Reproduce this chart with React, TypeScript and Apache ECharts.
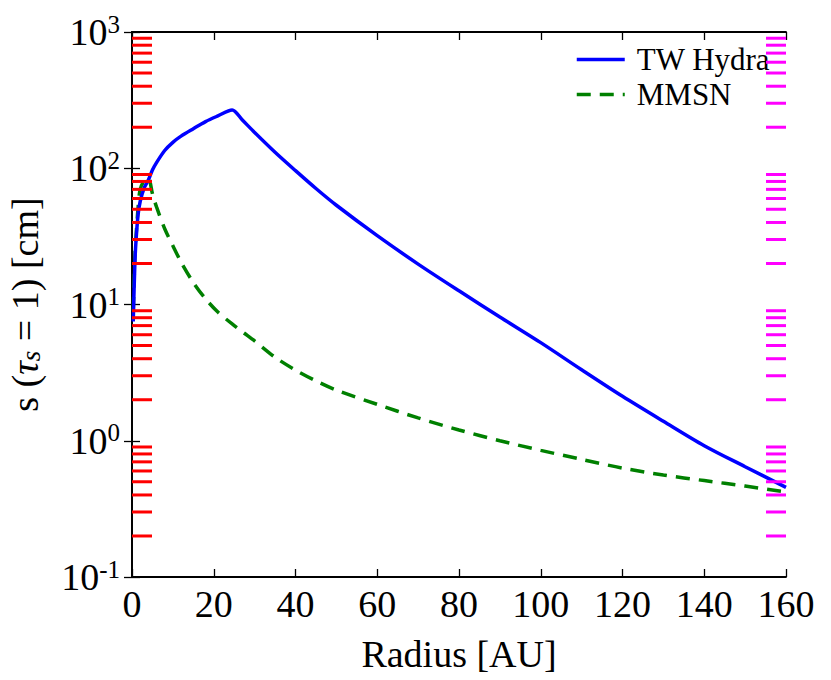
import React, { useEffect, useRef } from "react";
import * as echarts from "echarts";

const radius = [0.3, 0.7, 1, 1.5, 2, 3, 4, 5, 6, 8, 10, 12, 15, 18, 21, 24.5, 27, 30, 35, 40, 45, 50, 60, 70, 80, 90, 100, 110, 120, 130, 140, 150, 160];
const twHydra = [7.5, 20, 30, 46, 57, 72, 82, 97, 110, 135, 155, 172, 195, 220, 242, 268, 226, 183, 131, 96, 71, 53.5, 32, 19.8, 12.6, 8.1, 5.25, 3.32, 2.12, 1.39, 0.92, 0.645, 0.455];
const mmsn = [9, 22, 32, 52, 70, 81, 84, 65, 52, 36, 27, 20.5, 14.5, 11, 8.8, 7.2, 6.3, 5.4, 4.1, 3.3, 2.75, 2.35, 1.85, 1.47, 1.2, 1.0, 0.85, 0.73, 0.63, 0.56, 0.51, 0.465, 0.42];
const seriesNames = ["TW Hydra", "MMSN"];
const xTicks = { min: 0, max: 160, interval: 20 };
const yRange = { min: 0.1, max: 1000 };
const minorTickValues = [0.2, 0.3, 0.4, 0.5, 0.6, 0.7, 0.8, 0.9, 2, 3, 4, 5, 6, 7, 8, 9, 20, 30, 40, 50, 60, 70, 80, 90, 200, 300, 400, 500, 600, 700, 800, 900];

const FONT = "Liberation Serif";

export default function App() {
  const ref = useRef<HTMLDivElement>(null);
  useEffect(() => {
    if (!ref.current) return;
    const chart = echarts.init(ref.current, null, { renderer: "svg" });
    const yLabel = {
      formatter: (v: number) => `{b|10}{s|${Math.round(Math.log10(v))}}`,
      margin: 12,
      rich: {
        b: { fontSize: 38, fontFamily: FONT, color: "#000" },
        s: { fontSize: 25, fontFamily: FONT, color: "#000", verticalAlign: "top", padding: [0, 0, 16, 0] },
      },
    };
    const tickLine = { lineStyle: { color: "#000", width: 1.3 } };
    chart.setOption({
      animation: false,
      backgroundColor: "#fff",
      grid: { left: 132, top: 32, right: 45, bottom: 103, containLabel: false, outerBoundsMode: "none" },
      legend: {
        data: seriesNames,
        orient: "vertical",
        left: 575,
        top: 44,
        padding: 0,
        itemWidth: 48,
        itemHeight: 14,
        itemGap: 4,
        itemStyle: { opacity: 0, borderWidth: 0 },
        lineStyle: { width: 3.5 },
        textStyle: { fontSize: 31, fontFamily: FONT, color: "#000", padding: [0, 0, 0, 7] },
      },
      xAxis: [
        {
          type: "value",
          min: xTicks.min,
          max: xTicks.max,
          interval: xTicks.interval,
          position: "bottom",
          splitLine: { show: false },
          axisLine: { show: true, lineStyle: { color: "#000", width: 1.8 } },
          axisTick: { show: true, inside: true, length: 8, ...tickLine },
          axisLabel: { fontSize: 38, fontFamily: FONT, color: "#000", margin: 8 },
          name: "Radius [AU]",
          nameLocation: "middle",
          nameGap: 58,
          nameTextStyle: { fontSize: 38, fontFamily: FONT, color: "#000" },
        },
        {
          type: "value",
          min: xTicks.min,
          max: xTicks.max,
          interval: xTicks.interval,
          position: "top",
          splitLine: { show: false },
          axisLine: { show: true, lineStyle: { color: "#000", width: 1.8 } },
          axisTick: { show: true, inside: true, length: 8, ...tickLine },
          axisLabel: { show: false },
        },
      ],
      yAxis: [
        {
          type: "log",
          logBase: 10,
          min: yRange.min,
          max: yRange.max,
          position: "left",
          splitLine: { show: false },
          axisLine: { show: true, lineStyle: { color: "#000", width: 1.8 } },
          axisTick: { show: true, inside: true, length: 8, ...tickLine },
          axisLabel: yLabel,
          name: "s ({i|τ}{sub|s} = 1) [cm]",
          nameLocation: "middle",
          nameRotate: 90,
          nameGap: 88,
          nameTextStyle: {
            fontSize: 38,
            fontFamily: FONT,
            color: "#000",
            rich: {
              i: { fontSize: 38, fontFamily: FONT, fontStyle: "italic", color: "#000" },
              sub: { fontSize: 27, fontFamily: FONT, fontStyle: "italic", color: "#000", verticalAlign: "bottom", padding: [10, 0, 0, 0] },
            },
          },
        },
        {
          type: "log",
          logBase: 10,
          min: yRange.min,
          max: yRange.max,
          position: "right",
          splitLine: { show: false },
          axisLine: { show: true, lineStyle: { color: "#000", width: 1.8 } },
          axisTick: { show: true, inside: true, length: 8, ...tickLine },
          axisLabel: { show: false },
        },
      ],
      series: [
        {
          name: seriesNames[0],
          type: "line",
          data: radius.map((r, i) => [r, twHydra[i]]),
          showSymbol: false,
          symbol: "none",
          smooth: 0.3,
          lineStyle: { color: "#0000ff", width: 3.5 },
          itemStyle: { color: "#0000ff" },
          z: 3,
        },
        {
          name: seriesNames[1],
          type: "line",
          data: radius.map((r, i) => [r, mmsn[i]]),
          showSymbol: false,
          symbol: "none",
          smooth: 0.3,
          lineStyle: { color: "#008000", width: 3.5, type: [14, 9] },
          itemStyle: { color: "#008000" },
          z: 2,
        },
        {
          name: "minorTicksLeft",
          type: "custom",
          silent: true,
          clip: false,
          data: minorTickValues.map((v) => [xTicks.min, v]),
          renderItem: (params: any, api: any) => {
            const p = api.coord([api.value(0), api.value(1)]);
            return {
              type: "rect",
              shape: { x: p[0], y: p[1] - 1.5, width: 20, height: 3 },
              style: { fill: "#ff0000" },
            };
          },
          z: 50,
        },
        {
          name: "minorTicksRight",
          type: "custom",
          silent: true,
          clip: false,
          data: minorTickValues.map((v) => [xTicks.max, v]),
          renderItem: (params: any, api: any) => {
            const p = api.coord([api.value(0), api.value(1)]);
            return {
              type: "rect",
              shape: { x: p[0] - 20, y: p[1] - 1.5, width: 20, height: 3 },
              style: { fill: "#ff00ff" },
            };
          },
          z: 50,
        },
      ],
    });
    return () => chart.dispose();
  }, []);
  return (
    <div
      ref={ref}
      style={{ position: "fixed", left: 0, top: 0, width: 831, height: 680, background: "#fff" }}
    />
  );
}
